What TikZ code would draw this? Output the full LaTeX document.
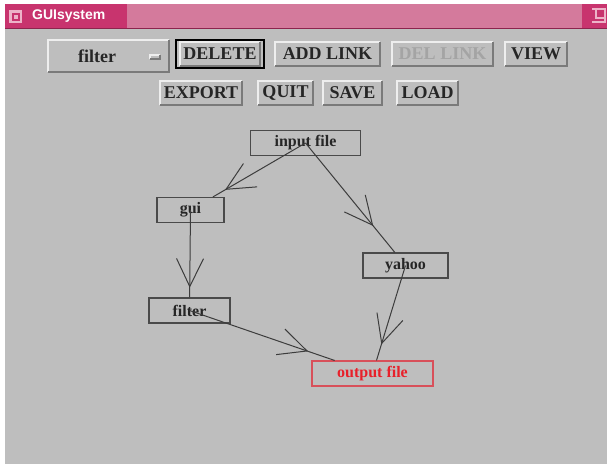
\documentclass[tikz,border=0pt]{standalone}
\usepackage{fontspec}
\setmainfont{Liberation Serif}
\newfontfamily\titlefont{Liberation Sans}
\usetikzlibrary{decorations.markings}
\definecolor{winbg}{HTML}{BEBEBE}
\definecolor{pinkdark}{HTML}{C8346E}
\definecolor{pinklight}{HTML}{D47A9C}
\definecolor{pinkpale}{HTML}{EDB3C8}
\definecolor{edgecol}{HTML}{3C3C3C}
\definecolor{boxcol}{HTML}{4A4A4A}
\definecolor{outred}{HTML}{E8202A}
\definecolor{outbox}{HTML}{D8505A}
\definecolor{btnlight}{HTML}{EEEEEE}
\definecolor{btndark}{HTML}{7A7A7A}
\definecolor{disabled}{HTML}{A4A4A4}
\newcommand\btnrelief[1]{%
  \draw[btnlight,line width=1.8pt] (#1.south west) -- (#1.north west) -- (#1.north east);
  \draw[btndark,line width=1.8pt] (#1.south west) -- (#1.south east) -- (#1.north east);}
\begin{document}
\begin{tikzpicture}[x=1pt,y=-1pt,
  btn/.style={font=\fontsize{18}{18}\selectfont\bfseries, inner sep=0pt, minimum height=23, text=black!85},
  gnode/.style={draw=boxcol, line width=1.1pt, inner sep=0pt, minimum height=25,
     font=\fontsize{16}{16}\selectfont\bfseries, text=black!85},
  edge/.style={draw=edgecol, line width=1pt},
  arrowat/.style={postaction={decorate,decoration={markings,
     mark=at position #1 with {\draw[edgecol,line width=1pt] (-28pt,13.5pt) -- (0pt,0pt) -- (-28pt,-13.5pt);}}}}]
\useasboundingbox (0,0) rectangle (607,464);
% window
\fill[white] (0,0) rectangle (607,464);
\fill[winbg] (5,28) rectangle (607,464);
% title bar
\fill[pinklight] (5,4) rectangle (607,28);
\fill[pinkdark] (5,4) rectangle (127,28);
\fill[pinkdark] (582,4) rectangle (607,28);
\draw[pinkdark!70!black,line width=0.6pt] (5,28) -- (607,28);
\fill[pinkpale] (9,10) rectangle (22,23);
\fill[pinkdark] (11.5,12.5) rectangle (19.5,20.5);
\fill[pinkpale] (13.5,14.5) rectangle (17.5,18.5);
\draw[pinkpale,line width=1.2pt] (592,9) -- (605,9) -- (605,22) -- (592,22);
\draw[pinkpale,line width=1.2pt] (596,9) -- (596,18) -- (605,18);
\node[anchor=west, text=white, font=\titlefont\bfseries\fontsize{14}{14}\selectfont, inner sep=0pt] (title) at (32,16.5) {GUIsystem};
% option menu
\node[inner sep=0pt, minimum width=121, minimum height=32] (menu) at (108.5,56) {};
\btnrelief{menu}
\node[btn] (menulabel) at (97,56) {filter};
\node[inner sep=0pt, minimum width=10, minimum height=3] (menuind) at (155,57) {};
\btnrelief{menuind}
% buttons row 1
\node[btn, minimum width=80] (bdelete) at (220,54) {DELETE};
\btnrelief{bdelete}
\draw[black,line width=2pt] (176,40) rectangle (264,68);
\node[btn, minimum width=105] (baddlink) at (327.5,54) {ADD LINK};
\btnrelief{baddlink}
\node[btn, minimum width=101, text=disabled] (bdellink) at (442.5,54) {DEL LINK};
\btnrelief{bdellink}
\node[btn, minimum width=62] (bview) at (536,54) {VIEW};
\btnrelief{bview}
% buttons row 2
\node[btn, minimum width=82] (bexport) at (201,93) {EXPORT};
\btnrelief{bexport}
\node[btn, minimum width=54] (bquit) at (285.5,93) {QUIT};
\btnrelief{bquit}
\node[btn, minimum width=59] (bsave) at (352.5,93) {SAVE};
\btnrelief{bsave}
\node[btn, minimum width=61] (bload) at (427.5,93) {LOAD};
\btnrelief{bload}
% graph nodes
\node[gnode, minimum width=110] (inp) at (305.5,143) {input file};
\node[gnode, minimum width=67] (gui) at (190.5,210) {gui};
\node[gnode, minimum width=85] (yahoo) at (405.5,265.5) {yahoo};
\node[gnode, minimum width=81] (filt) at (189.5,310.5) {filter};
\node[gnode, minimum width=121, draw=outbox, text=outred] (out) at (372.5,373.5) {output file};
% edges
\path[edge, arrowat=0.86] (inp.center) -- (gui);
\path[edge, arrowat=0.875] (gui.center) -- (filt);
\path[edge, arrowat=0.75] (inp.center) -- (yahoo);
\path[edge, arrowat=0.82] (yahoo.center) -- (out);
\path[edge, arrowat=0.81] (filt.center) -- (out);
\end{tikzpicture}
\end{document}
